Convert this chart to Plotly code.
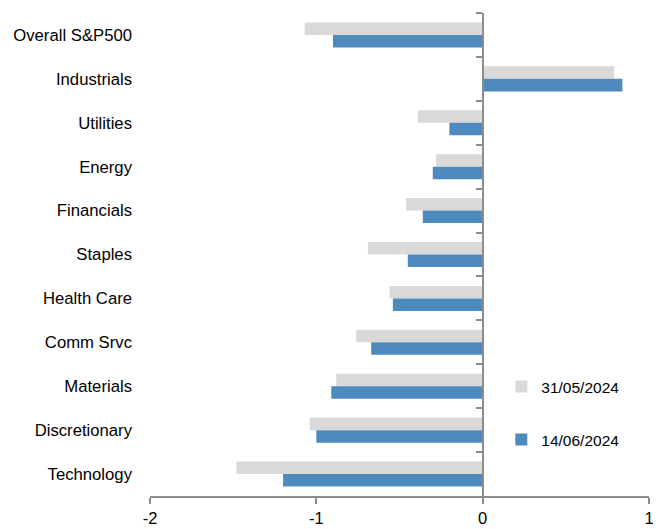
import plotly.graph_objects as go

categories = ["Overall S&P500", "Industrials", "Utilities", "Energy", "Financials",
              "Staples", "Health Care", "Comm Srvc", "Materials", "Discretionary", "Technology"]
series_names = ["31/05/2024", "14/06/2024"]
values_may31 = [-1.07, 0.79, -0.39, -0.28, -0.46, -0.69, -0.56, -0.76, -0.88, -1.04, -1.48]
values_jun14 = [-0.90, 0.84, -0.20, -0.30, -0.36, -0.45, -0.54, -0.67, -0.91, -1.00, -1.20]
x_ticks = [-2, -1, 0, 1]

GRAY = "#D9D9D9"
BLUE = "#4E8ABE"
AXIS = "#8C8C8C"
FONT = "Liberation Sans, Arial, sans-serif"

fig = go.Figure()
fig.add_trace(go.Bar(y=categories, x=values_may31, name=series_names[0], orientation="h",
                     marker=dict(color=GRAY, line=dict(width=0)), legend="legend"))
fig.add_trace(go.Bar(y=categories, x=values_jun14, name=series_names[1], orientation="h",
                     marker=dict(color=BLUE, line=dict(width=0)), legend="legend2"))
# invisible helper trace carrying the category labels on the left axis
fig.add_trace(go.Scatter(y=categories, x=[0] * len(categories), yaxis="y2", mode="markers",
                         marker=dict(opacity=0), showlegend=False, hoverinfo="skip"))

n = len(categories)
# page body adds an 8px margin, so the figure is sized/offset to compensate
fig.update_layout(
    width=653, height=521,
    margin=dict(l=142, r=12, t=5, b=33),
    paper_bgcolor="white", plot_bgcolor="white",
    font=dict(family=FONT, size=16, color="#000000"),
    barmode="group", bargap=0.43, bargroupgap=0,
    xaxis=dict(range=[-2, 1], tickvals=x_ticks, ticktext=[str(v) for v in x_ticks],
               showgrid=False, zeroline=False, showline=True, linecolor=AXIS, linewidth=2,
               ticks="outside", ticklen=6, tickwidth=2, tickcolor=AXIS,
               tickfont=dict(size=16.5), anchor="y", automargin=False),
    yaxis=dict(type="category", categoryorder="array", categoryarray=categories,
               range=[n - 0.5, -0.5], anchor="free", position=2 / 3,
               showline=True, linecolor=AXIS, linewidth=2, showgrid=False, zeroline=False,
               ticks="outside", tickson="boundaries", ticklen=6, tickwidth=2, tickcolor=AXIS,
               showticklabels=False, automargin=False),
    yaxis2=dict(type="category", categoryorder="array", categoryarray=categories,
                range=[n - 0.5, -0.5], overlaying="y", side="left", anchor="x",
                showline=False, showgrid=False, zeroline=False, ticks="",
                ticklabelstandoff=17, tickfont=dict(size=16.7), automargin=False),
    legend=dict(x=0.704, y=0.2257, xanchor="left", yanchor="middle",
                bgcolor="rgba(0,0,0,0)", font=dict(size=15.5)),
    legend2=dict(x=0.704, y=0.116, xanchor="left", yanchor="middle",
                 bgcolor="rgba(0,0,0,0)", font=dict(size=15.5)),
    showlegend=True,
)

fig.write_html("out.html")
